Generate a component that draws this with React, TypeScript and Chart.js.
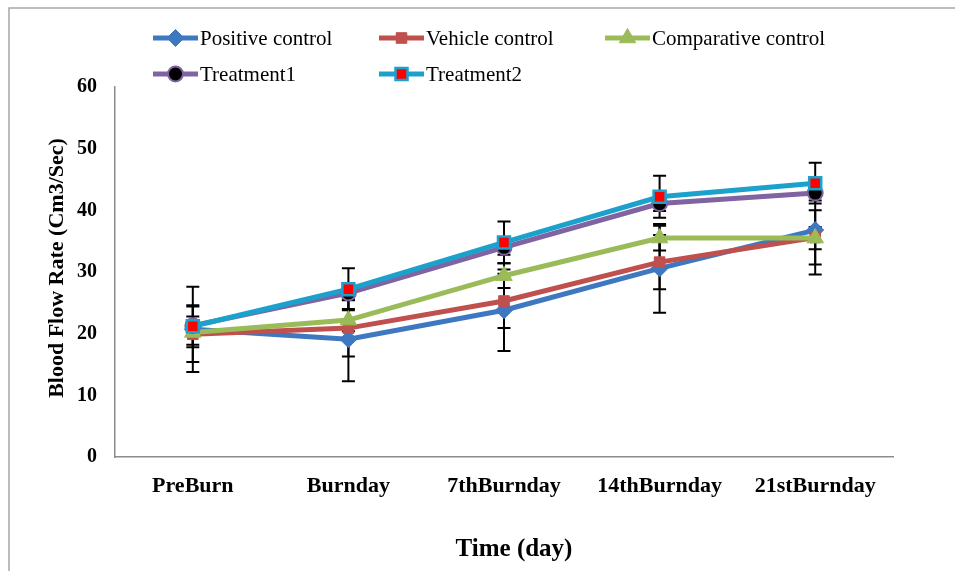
import React, { useEffect, useRef } from 'react';
import { Chart, registerables } from 'chart.js';
import { drawPoint } from 'chart.js/helpers';

Chart.register(...registerables);

const categories = ['PreBurn', 'Burnday', '7thBurnday', '14thBurnday', '21stBurnday'];
const seriesNames = ['Positive control', 'Vehicle control', 'Comparative control', 'Treatment1', 'Treatment2'];
const positiveControl = [20.7, 19.1, 23.8, 30.6, 36.8];
const vehicleControl = [19.9, 20.9, 25.3, 31.6, 35.6];
const comparativeControl = [20.2, 22.2, 29.4, 35.5, 35.5];
const treatment1 = [21.3, 26.6, 34.0, 41.1, 42.8];
const treatment2 = [21.2, 27.2, 34.8, 42.2, 44.4];
const positiveErr = [6.9, 6.8, 6.6, 7.2, 7.2];
const vehicleErr = [4.5, 4.6, 4.4, 4.4, 4.4];
const comparativeErr = [2.0, 1.8, 2.0, 2.0, 1.8];
const treatment1Err = [1.5, 1.2, 1.2, 1.2, 1.2];
const treatment2Err = [3.4, 3.4, 3.4, 3.4, 3.3];
const yTicks = [0, 10, 20, 30, 40, 50, 60];

const FONT = "'Liberation Serif', 'Times New Roman', serif";

const seriesValues = [positiveControl, vehicleControl, comparativeControl, treatment1, treatment2];
const seriesErrors = [positiveErr, vehicleErr, comparativeErr, treatment1Err, treatment2Err];
const styles = [
  { line: '#3D78C1', style: 'rectRot', radius: 8.5, fill: '#3D78C1', border: '#3D78C1', bw: 1 },
  { line: '#C0504D', style: 'rect', radius: 7.5, fill: '#C0504D', border: '#C0504D', bw: 1 },
  { line: '#9BBB59', style: 'triangle', radius: 9.5, fill: '#9BBB59', border: '#9BBB59', bw: 1 },
  { line: '#8064A2', style: 'circle', radius: 7.5, fill: '#000000', border: '#8064A2', bw: 2 },
  { line: '#1BA1CC', style: 'rect', radius: 8.5, fill: '#FF0000', border: '#1BA1CC', bw: 2.5 },
];
const legendPos = [
  [153, 38], [379, 38], [605, 38], [153, 74], [379, 74],
];

export default function App() {
  const ref = useRef<HTMLCanvasElement>(null);
  useEffect(() => {
    document.body.style.margin = '0';
    const canvas = ref.current;
    if (!canvas) return;

    const framePlugin = {
      id: 'frame',
      beforeDraw(chart: any) {
        const c = chart.ctx;
        c.save();
        c.fillStyle = '#ffffff';
        c.fillRect(0, 0, chart.width, chart.height);
        c.strokeStyle = '#A6A6A6';
        c.lineWidth = 1.5;
        c.beginPath();
        c.moveTo(9, chart.height + 5);
        c.lineTo(9, 8);
        c.lineTo(chart.width + 5, 8);
        c.stroke();
        c.restore();
      },
    };

    const errorPlugin = {
      id: 'errorBars',
      beforeDatasetsDraw(chart: any) {
        const c = chart.ctx;
        const ys = chart.scales.y;
        c.save();
        c.strokeStyle = '#000000';
        c.lineWidth = 2;
        chart.data.datasets.forEach((ds: any, i: number) => {
          const meta = chart.getDatasetMeta(i);
          const errs = seriesErrors[i];
          meta.data.forEach((pt: any, j: number) => {
            const v = ds.data[j];
            const e = errs[j];
            const x = pt.x;
            const t = ys.getPixelForValue(v + e);
            const b = ys.getPixelForValue(v - e);
            c.beginPath();
            c.moveTo(x, t);
            c.lineTo(x, b);
            c.moveTo(x - 6.5, t);
            c.lineTo(x + 6.5, t);
            c.moveTo(x - 6.5, b);
            c.lineTo(x + 6.5, b);
            c.stroke();
          });
        });
        c.restore();
      },
    };

    const decoPlugin = {
      id: 'deco',
      afterDraw(chart: any) {
        const c = chart.ctx;
        c.save();
        seriesNames.forEach((name, i) => {
          const [lx, ly] = legendPos[i];
          const s = styles[i];
          c.strokeStyle = s.line;
          c.lineWidth = 5;
          c.beginPath();
          c.moveTo(lx, ly);
          c.lineTo(lx + 45, ly);
          c.stroke();
          c.fillStyle = s.fill;
          c.strokeStyle = s.border;
          c.lineWidth = s.bw;
          drawPoint(c, { pointStyle: s.style, radius: s.radius, rotation: 0, borderWidth: s.bw } as any, lx + 22.5, ly);
          c.fillStyle = '#000000';
          c.font = `21px ${FONT}`;
          c.textAlign = 'left';
          c.textBaseline = 'middle';
          c.fillText(name, lx + 47, ly + 1);
        });
        const area = chart.chartArea;
        c.fillStyle = '#000000';
        c.font = `bold 22px ${FONT}`;
        c.textAlign = 'center';
        c.textBaseline = 'middle';
        c.save();
        c.translate(57, (area.top + area.bottom) / 2 - 4);
        c.rotate(-Math.PI / 2);
        c.fillText('Blood Flow Rate (Cm3/Sec)', 0, 0);
        c.restore();
        c.font = `bold 25px ${FONT}`;
        c.fillText('Time (day)', (area.left + area.right) / 2 + 10, 550);
        c.restore();
      },
    };

    const chart = new Chart(canvas, {
      type: 'line',
      data: {
        labels: categories,
        datasets: seriesValues.map((vals, i) => ({
          label: seriesNames[i],
          data: vals,
          order: 4 - i,
          borderColor: styles[i].line,
          borderWidth: 5,
          backgroundColor: styles[i].fill,
          pointStyle: styles[i].style as any,
          pointRadius: styles[i].radius,
          pointBackgroundColor: styles[i].fill,
          pointBorderColor: styles[i].border,
          pointBorderWidth: styles[i].bw,
          tension: 0,
          fill: false,
        })),
      },
      options: {
        responsive: false,
        animation: false,
        layout: { padding: { top: 87, right: 62, left: 0, bottom: 0 } },
        plugins: {
          legend: { display: false },
          tooltip: { enabled: false },
          title: { display: false },
        },
        scales: {
          x: {
            type: 'category',
            offset: true,
            grid: { display: false, drawTicks: false },
            border: { display: true, color: '#8C8C8C', width: 1.5 },
            ticks: {
              color: '#000000',
              font: { family: FONT, size: 22, weight: 'bold' },
              padding: 16,
              maxRotation: 0,
              autoSkip: false,
            },
            afterFit(scale: any) {
              scale.height = 114;
            },
          },
          y: {
            min: 0,
            max: 60,
            grid: { display: false, drawTicks: false },
            border: { display: true, color: '#8C8C8C', width: 1.5 },
            afterBuildTicks(scale: any) {
              scale.ticks = yTicks.map((v) => ({ value: v }));
            },
            ticks: {
              color: '#000000',
              font: { family: FONT, size: 20, weight: 'bold' },
              padding: 18,
            },
            afterFit(scale: any) {
              scale.width = 115;
            },
          },
        },
      },
      plugins: [framePlugin, errorPlugin, decoPlugin],
    });
    return () => chart.destroy();
  }, []);
  return <canvas ref={ref} width={955} height={571} style={{ display: 'block' }} />;
}
